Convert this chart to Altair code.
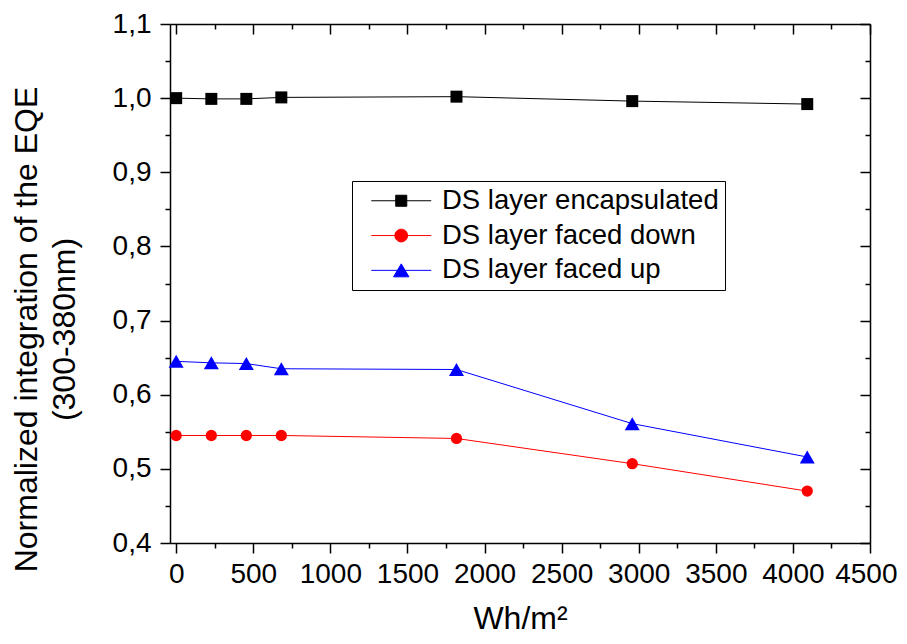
import altair as alt
import pandas as pd

# ---------------- data ----------------
series_names = ["DS layer encapsulated", "DS layer faced down", "DS layer faced up"]
exposure_wh_m2 = [0, 228, 455, 682, 1818, 2958, 4093]
eqe_encapsulated = [1.000, 0.999, 0.999, 1.001, 1.002, 0.996, 0.992]
eqe_faced_down = [0.545, 0.545, 0.545, 0.545, 0.541, 0.507, 0.470]
eqe_faced_up = [0.645, 0.643, 0.642, 0.635, 0.634, 0.561, 0.516]

x_tick_values = [0, 250, 500, 750, 1000, 1250, 1500, 1750, 2000, 2250,
                 2500, 2750, 3000, 3250, 3500, 3750, 4000, 4250, 4500]
y_tick_values = [0.40, 0.45, 0.50, 0.55, 0.60, 0.65, 0.70, 0.75,
                 0.80, 0.85, 0.90, 0.95, 1.00, 1.05, 1.10]

# ---------------- styles ----------------
series_colors = ["#000000", "#ff0000", "#0000ff"]
marker_shapes = ["square", "circle", "triangle-up"]
marker_sizes = [144, 127, 225]
legend_symbols = [
    "M-5,0H5M-0.92,-0.92H0.92V0.92H-0.92Z",
    "M-5,0H5M-1.06,0A1.06,1.06,0,1,1,1.06,0A1.06,1.06,0,1,1,-1.06,0Z",
    "M-5,0H5M0,-1.08L1.28,1.08L-1.28,1.08Z",
]

rows = []
for name, vals in zip(series_names, [eqe_encapsulated, eqe_faced_down, eqe_faced_up]):
    for xv, yv in zip(exposure_wh_m2, vals):
        rows.append({"x": xv, "y": yv, "series": name})
df = pd.DataFrame(rows)

FONT = "Liberation Sans"
x_scale = alt.Scale(domain=[-40, 4500], nice=False, zero=False)
y_scale = alt.Scale(domain=[0.4, 1.1], nice=False, zero=False)
color_scale = alt.Scale(domain=series_names, range=series_colors)

x_minor = "datum.value % 500 != 0"
y_minor = "round(datum.value * 100) % 10 != 0"

common_axis = dict(grid=False, domainColor="black", domainWidth=1.5,
                   tickColor="black", tickWidth=1.5, labelOverlap=False)

x_axis_bottom = alt.Axis(
    orient="bottom", values=x_tick_values,
    labelExpr=f"{x_minor} ? '' : format(datum.value, 'd')",
    tickSize={"condition": {"test": x_minor, "value": 5}, "value": 10},
    labelFont=FONT, labelFontSize=28, labelColor="black", labelPadding=7,
    labelFlush=1, labelFlushOffset=27,
    titleFont=FONT, titleFontSize=32, titleFontWeight="normal", titleColor="black",
    titleX=350, titleY=85, titleBaseline="alphabetic", titleAlign="center",
    **common_axis)

y_axis_left = alt.Axis(
    orient="left", values=y_tick_values,
    labelExpr=f"{y_minor} ? '' : replace(format(datum.value, '.1f'), '.', ',')",
    tickSize={"condition": {"test": y_minor, "value": 5}, "value": 10},
    labelFont=FONT, labelFontSize=28, labelColor="black", labelPadding=9,
    labelFlush=False,
    titleFont=FONT, titleFontSize=32, titleFontWeight="normal", titleColor="black",
    titleAngle=270, titleX=-134, titleY=305, titleBaseline="alphabetic",
    titleAlign="center", titleLineHeight=38,
    **common_axis)

x_axis_top = alt.Axis(
    orient="top", values=x_tick_values, labels=False, title=None,
    tickSize={"condition": {"test": x_minor, "value": -5}, "value": -10},
    **common_axis)

y_axis_right = alt.Axis(
    orient="right", values=y_tick_values, labels=False, title=None,
    tickSize={"condition": {"test": y_minor, "value": -5}, "value": -10},
    **common_axis)

line_layers = []
point_layers = []
for i, name in enumerate(series_names):
    first = i == 0
    line_layers.append(
        alt.Chart(df)
        .transform_filter(alt.datum.series == name)
        .mark_line(strokeWidth=1, color=series_colors[i])
        .encode(
            x=alt.X("x:Q", scale=x_scale, axis=x_axis_bottom if first else None,
                    title="Wh/m²"),
            y=alt.Y("y:Q", scale=y_scale, axis=y_axis_left if first else None,
                    title=["Normalized integration of the EQE", "(300-380nm)"]),
        )
    )
    point_layers.append(
        alt.Chart(df)
        .transform_filter(alt.datum.series == name)
        .mark_point(shape=marker_shapes[i], size=marker_sizes[i],
                    color=series_colors[i], filled=True, opacity=1)
        .encode(
            x=alt.X("x:Q", scale=x_scale, axis=x_axis_top if first else None),
            y=alt.Y("y:Q", scale=y_scale, axis=y_axis_right if first else None),
        )
    )

legend = alt.Legend(
    title=None, orient="none", legendX=182, legendY=157, padding=6,
    strokeColor="black", labelFont=FONT, labelFontSize=27.5, labelColor="black",
    labelLimit=600, symbolSize=144, symbolStrokeWidth=1, symbolOffset=29.5,
    labelOffset=27, rowPadding=5.8, symbolOpacity=1)

legend_layer = (
    alt.Chart(df)
    .transform_filter("false")
    .mark_point(filled=True, opacity=1, strokeWidth=1)
    .encode(
        color=alt.Color("series:N", scale=color_scale, legend=legend),
        stroke=alt.Stroke("series:N", scale=color_scale, legend=legend),
        shape=alt.Shape("series:N",
                        scale=alt.Scale(domain=series_names, range=legend_symbols),
                        legend=legend),
    )
)

chart = (
    alt.layer(*line_layers, *point_layers, legend_layer)
    .resolve_axis(x="independent", y="independent")
    .properties(
        width=700, height=519,
        padding={"left": 162, "top": 16, "right": 29, "bottom": 93},
        autosize=alt.AutoSizeParams(type="none"),
    )
    .configure_view(stroke=None)
    .configure(font=FONT)
)

chart.save("out.html", embed_options={"renderer": "svg", "actions": False})
